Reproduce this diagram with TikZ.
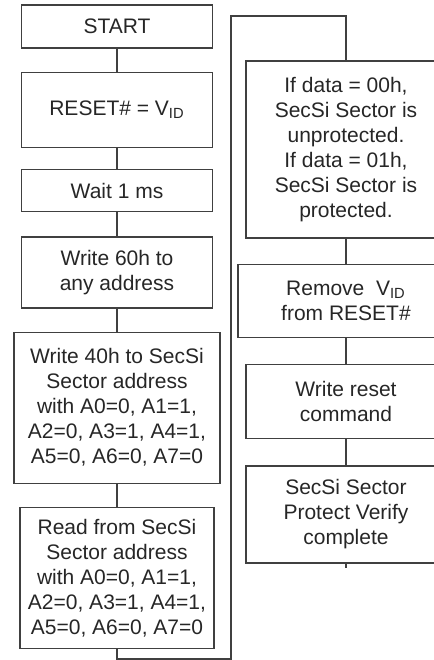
\documentclass[tikz,border=0pt]{standalone}
\usepackage{fontspec}
\setmainfont{Liberation Sans}
\usetikzlibrary{positioning}
\tikzset{
  every picture/.style={line width=0.65pt},
}

\begin{document}
\begin{tikzpicture}[
      x=0.5pt, y=-0.5pt,
      node distance = 11.5pt,
      every node/.style={
        align=center,
        font=\fontsize{10.5}{12.5}\selectfont,
        text=black!85,
      },
      box/.style={draw=black!75,
        minimum width=95.5pt,
        inner sep=2pt,
      },
      wire/.style={draw=black!75},
      ]
      \useasboundingbox (0,0) rectangle (434,660);
      \clip (0,0) rectangle (434,660);

      % left column
      \node[box, minimum height=21.5pt] (start) at (117,26.5) {START};
      \node[box, below=of start, minimum height=37.5pt] (reset) {RESET\# = V\textsubscript{ID}};
      \node[box, below=10.5pt of reset, minimum height=21pt] (wait) {Wait 1 ms};
      \node[box, below=12pt of wait, minimum height=35.5pt] (write60) {Write 60h to \\ any address};
      \node[box, below=of write60, minimum width=103pt, minimum height=75.5pt] (write40)
        {Write 40h to SecSi \\ Sector address \\ with A0=0, A1=1, \\ A2=0, A3=1, A4=1, \\ A5=0, A6=0, A7=0};
      \node[box, below=of write40, minimum width=97pt, minimum height=70.5pt] (read)
        {Read from SecSi \\ Sector address \\ with A0=0, A1=1, \\ A2=0, A3=1, A4=1, \\ A5=0, A6=0, A7=0};

      % right column (runs off the right edge)
      \node[box, minimum width=100pt, minimum height=88.5pt] (ifdata) at (346,149.5)
        {If data = 00h, \\ SecSi Sector is \\ unprotected. \\ If data = 01h, \\ SecSi Sector is \\ protected.};
      \node[box, below=12.5pt of ifdata, minimum width=108pt, minimum height=36.5pt] (remove)
        {Remove\ \ V\textsubscript{ID} \\ from RESET\#};
      \node[box, below=13pt of remove, minimum width=100pt, minimum height=37pt] (wreset)
        {Write reset \\ command};
      \node[box, below=13pt of wreset, minimum width=100pt, minimum height=48.5pt] (done)
        {SecSi Sector \\ Protect Verify \\ complete};

      \coordinate (loopbottom) at (117,659);
      \coordinate (looptop) at (231,16);
      \coordinate (tail) at (346,568);

      \path[wire]
      (start) -- (reset)
      (reset) -- (wait)
      (wait) -- (write60)
      (write60) -- (write40)
      (write40) -- (read)
      (ifdata) -- (remove)
      (remove) -- (wreset)
      (wreset) -- (done)
      (done) -- (tail)
      ;
      \draw[wire] (read) -- (loopbottom) -| (looptop) -| (ifdata);
    \end{tikzpicture}
\end{document}
